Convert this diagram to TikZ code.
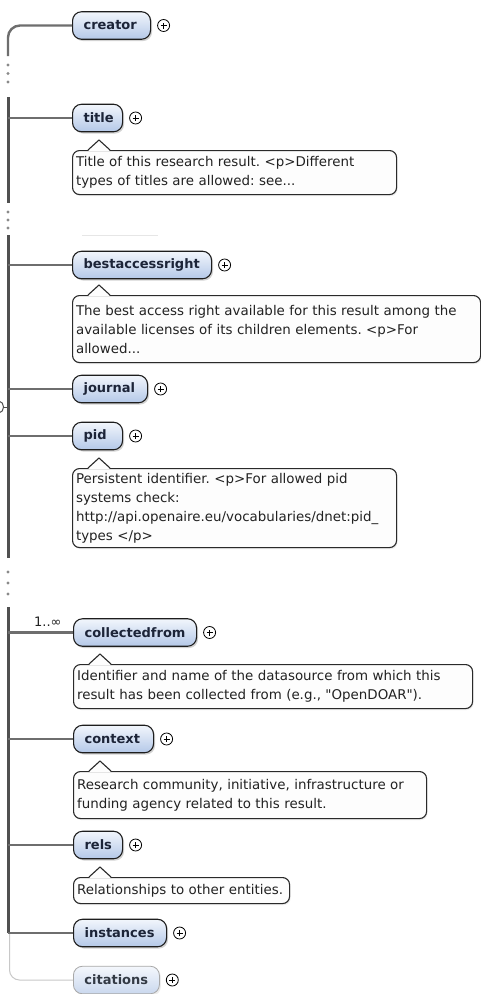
\documentclass[tikz,border=0pt]{standalone}
\usepackage{fontspec}
\setmainfont{DejaVu Sans}
\usetikzlibrary{shadows}
\frenchspacing
\hyphenpenalty=10000
\exhyphenpenalty=10000
\definecolor{spinecol}{HTML}{505050}
\definecolor{conncol}{HTML}{6E6E6E}
\definecolor{dotcol}{HTML}{8A8A8A}
\definecolor{elemborder}{HTML}{1E1E1E}
\definecolor{elemtop}{HTML}{F2F6FC}
\definecolor{elembot}{HTML}{B4C8E8}
\definecolor{elemtext}{HTML}{1C2438}
\definecolor{lightborder}{HTML}{A8A8A8}
\definecolor{lighttop}{HTML}{F4F7FC}
\definecolor{lightbot}{HTML}{CAD8EE}
\definecolor{lighttext}{HTML}{333A45}
\definecolor{ttborder}{HTML}{2A2A2A}
\definecolor{ttfill}{HTML}{FDFDFD}
\definecolor{tttext}{HTML}{222222}
\definecolor{thinline}{HTML}{C8C8C8}
\definecolor{faintline}{HTML}{E6E6E6}
\tikzset{
  elem/.style={draw=elemborder, line width=1.1pt, rounded corners=9pt,
    top color=elemtop, bottom color=elembot, minimum height=27.5pt,
    inner xsep=11pt, inner ysep=0pt, align=left, text width=#1,
    font=\fontsize{13}{15}\selectfont\bfseries, text=elemtext, anchor=west,
    drop shadow={shadow xshift=1.5pt, shadow yshift=-1.8pt, opacity=0.35}},
  elemlight/.style={draw=lightborder, line width=0.8pt, rounded corners=9pt,
    top color=lighttop, bottom color=lightbot, minimum height=27.5pt,
    inner xsep=11pt, inner ysep=0pt, align=left, text width=#1,
    font=\fontsize{13}{15}\selectfont\bfseries, text=lighttext, anchor=west,
    drop shadow={shadow xshift=1.5pt, shadow yshift=-1.8pt, opacity=0.15}},
  tipbox/.style={draw=ttborder, line width=1.1pt, fill=ttfill, rounded corners=7pt,
    anchor=north west, inner xsep=3.5pt, inner ysep=0pt, align=left,
    text width=#1, font=\fontsize{13.4}{19}\selectfont, text=tttext,
    drop shadow={shadow xshift=1pt, shadow yshift=-1.5pt, opacity=0.15}},
  plus/.style={circle, draw=black, line width=0.8pt, fill=white,
    minimum size=12pt, inner sep=0pt,
    path picture={\draw[line width=0.9pt]
      ([xshift=-3pt]path picture bounding box.center) -- ([xshift=3pt]path picture bounding box.center)
      ([yshift=-3pt]path picture bounding box.center) -- ([yshift=3pt]path picture bounding box.center);}},
  spine/.style={draw=spinecol, line width=3pt},
  conn/.style={draw=conncol, line width=2.4pt},
  thinconn/.style={draw=thinline, line width=1pt},
  dotmark/.style={fill=dotcol},
}
\newcommand\ttpointer[1]{%
  \fill[ttfill] ([xshift=16pt,yshift=-1pt]#1.north west) -- ([xshift=27pt,yshift=10pt]#1.north west) -- ([xshift=38pt,yshift=-1pt]#1.north west) -- cycle;
  \draw[ttborder, line width=1.1pt, line join=round] ([xshift=16pt]#1.north west) -- ([xshift=27pt,yshift=10pt]#1.north west) -- ([xshift=38pt]#1.north west);}
\begin{document}
\begin{tikzpicture}[x=1pt,y=-1pt]
\fill[white] (0,0) rectangle (481,994);
\useasboundingbox (0,0) rectangle (481,994);
\coordinate (sx) at (8,0);
\coordinate (sx2) at (9.5,0);

% spine segments and dots
\draw[spine] (8,97) -- (8,203);
\draw[spine] (8,235) -- (8,558);
\draw[spine] (8,607) -- (8,933.2);
\foreach \yy in {65,73.5,82, 212,220,228, 572,583,594}
  \fill[dotmark] (8,\yy) circle (1.6);
% sequence symbol edge
\draw[draw=spinecol, line width=1pt] (-1,401) .. controls (5,402) and (5,412) .. (-1,413);
\draw[draw=spinecol, line width=1pt] (3.5,407) -- (8,407);
% faint line
\draw[draw=faintline, line width=1pt] (82,235) -- (158,235);

% elements
\node[elem=56pt] (creator) at (72,25.5) {creator};
\node[elem=28pt] (title) at (72,118) {title};
\node[elem=117pt] (bestaccessright) at (72,265) {bestaccessright};
\node[elem=53pt] (journal) at (72,389) {journal};
\node[elem=28pt] (pid) at (72,436) {pid};
\node[elem=101pt] (collectedfrom) at (73,632.5) {collectedfrom};
\node[elem=58pt] (context) at (73,739) {context};
\node[elem=27pt] (rels) at (73,845) {rels};
\node[elem=71pt] (instances) at (73,933) {instances};
\node[elemlight=64pt] (citations) at (73,980) {citations};

\foreach \n in {creator,title,bestaccessright,journal,pid,collectedfrom,context,rels,instances,citations}
  \node[plus] (plus-\n) at ([xshift=12.5pt]\n.east) {};

% connectors
\draw[conn, rounded corners=12pt] (creator.west) -- (creator.west -| sx) -- (8,56);
\foreach \n in {title,bestaccessright,journal,pid,collectedfrom,context,rels,instances}
  \draw[conn] (\n.west -| sx) -- (\n.west);
\draw[thinconn, rounded corners=10pt] (9.5,934) -- (citations.west -| sx2) -- (citations.west);

% multiplicity
\node[anchor=west, inner sep=0pt, font=\fontsize{13}{15}\selectfont, text=tttext] (mult) at (34,622) {1..∞};

% tooltips
\node[tipbox=317pt, minimum height=44pt] (tt-title) at (72,150)
  {Title of this research result. <p>Different\\types of titles are allowed: see...};
\ttpointer{tt-title}
\node[tipbox=401pt, minimum height=67pt] (tt-bar) at (72,295)
  {The best access right available for this result among the\\available licenses of its children elements. <p>For\\allowed...};
\ttpointer{tt-bar}
\node[tipbox=317pt, minimum height=79pt] (tt-pid) at (72,468)
  {Persistent identifier. <p>For allowed pid\\systems check:\\http://api.openaire.eu/vocabularies/dnet:pid\_\\types </p>};
\ttpointer{tt-pid}
\node[tipbox=392pt, minimum height=44pt] (tt-cf) at (73,664)
  {Identifier and name of the datasource from which this\\result has been collected from (e.g., \textquotedbl OpenDOAR\textquotedbl).};
\ttpointer{tt-cf}
\node[tipbox=346pt, minimum height=47pt] (tt-ctx) at (73,771)
  {Research community, initiative, infrastructure or\\funding agency related to this result.};
\ttpointer{tt-ctx}
\node[tipbox=209pt, minimum height=26pt] (tt-rels) at (73,877)
  {Relationships to other entities.};
\ttpointer{tt-rels}
\end{tikzpicture}
\end{document}
